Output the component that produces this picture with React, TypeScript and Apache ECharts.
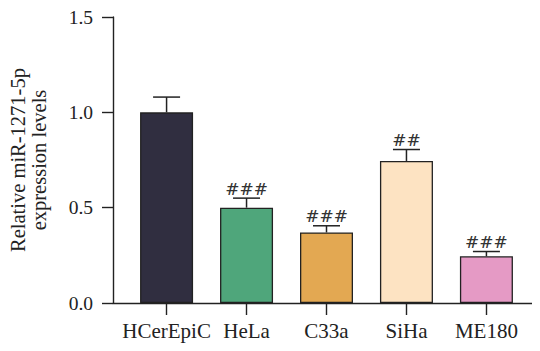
import React, { useEffect, useRef } from "react";
import * as echarts from "echarts";

const categories = ["HCerEpiC", "HeLa", "C33a", "SiHa", "ME180"];
const means = [1.0, 0.5, 0.37, 0.745, 0.245];
const errors = [0.08, 0.05, 0.035, 0.06, 0.025];
const marks = ["", "###", "###", "##", "###"];
const colors = ["#302e40", "#4fa67b", "#e3a852", "#fde3c2", "#e59ac5"];
const yTicks = [0, 0.5, 1.0, 1.5];

const SERIF = "'Liberation Serif', 'DejaVu Serif', serif";

export default function App() {
  const ref = useRef<HTMLDivElement>(null);
  useEffect(() => {
    const chart = echarts.init(ref.current!, null, { renderer: "svg" });
    const idx = categories.map((_, i) => i);
    chart.setOption({
      animation: false,
      backgroundColor: "#ffffff",
      grid: { left: 113, right: 0, top: 17, bottom: 48 },
      xAxis: {
        type: "value",
        min: -0.67,
        max: 4.67,
        z: 5,
        splitLine: { show: false },
        axisLine: { show: true, onZero: false, lineStyle: { color: "#222", width: 1.4 } },
        axisTick: { show: true, length: 12, customValues: idx, lineStyle: { color: "#222", width: 1.4 } },
        axisLabel: {
          customValues: idx,
          formatter: (v: number) => categories[Math.round(v)] ?? "",
          color: "#222",
          fontFamily: SERIF,
          fontSize: 21,
          margin: 17,
        },
      },
      yAxis: {
        type: "value",
        min: yTicks[0],
        max: yTicks[yTicks.length - 1],
        interval: 0.5,
        splitLine: { show: false },
        axisLine: { show: true, onZero: false, lineStyle: { color: "#222", width: 1.4 } },
        axisTick: { show: true, length: 11, lineStyle: { color: "#222", width: 1.4 } },
        axisLabel: {
          formatter: (v: number) => v.toFixed(1),
          color: "#222",
          fontFamily: SERIF,
          fontSize: 19.5,
          margin: 20,
        },
      },
      graphic: [
        {
          type: "text",
          x: 28,
          y: 160,
          rotation: Math.PI / 2,
          style: {
            text: "Relative miR-1271-5p\nexpression levels",
            fill: "#222",
            font: `20.5px ${SERIF}`,
            align: "center",
            verticalAlign: "middle",
            lineHeight: 21,
          },
        },
      ],
      series: [
        {
          type: "bar",
          barWidth: 53,
          data: means.map((m, i) => ({
            value: [i, m],
            itemStyle: { color: colors[i], borderColor: "#222", borderWidth: 1.3 },
          })),
          z: 2,
        },
        {
          type: "custom",
          z: 3,
          data: means.map((m, i) => [i, m, m + errors[i]]),
          renderItem: (params: any, api: any) => {
            const i = api.value(0);
            const base = api.coord([i, api.value(1)]);
            const top = api.coord([i, api.value(2)]);
            const half = 13.5;
            const children: any[] = [
              { type: "line", shape: { x1: base[0], y1: base[1], x2: top[0], y2: top[1] }, style: { stroke: "#222", lineWidth: 1.5 } },
              { type: "line", shape: { x1: top[0] - half, y1: top[1], x2: top[0] + half, y2: top[1] }, style: { stroke: "#222", lineWidth: 1.5 } },
            ];
            const mark = marks[params.dataIndex];
            if (mark) {
              children.push({
                type: "text",
                x: top[0],
                y: top[1] - 1,
                style: {
                  text: mark,
                  fill: "#333",
                  font: `17px 'DejaVu Serif', serif`,
                  align: "center",
                  verticalAlign: "bottom",
                },
              });
            }
            return { type: "group", children };
          },
        },
      ],
    });
    return () => chart.dispose();
  }, []);
  return <div ref={ref} style={{ width: 540, height: 351, margin: -8 }} />;
}
